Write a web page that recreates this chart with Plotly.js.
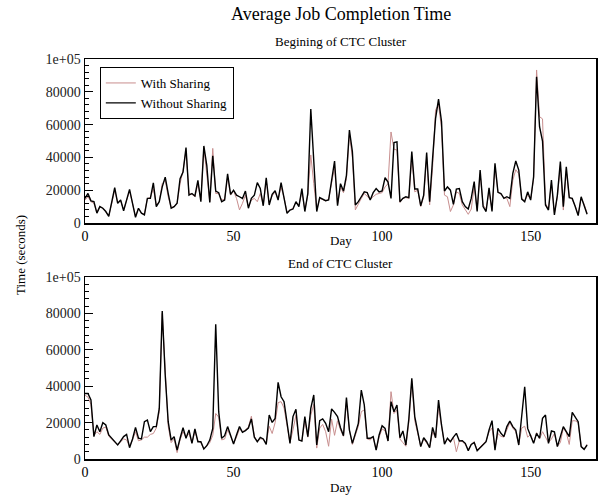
<!DOCTYPE html>
<html>
<head>
<meta charset="utf-8">
<script src="https://cdn.plot.ly/plotly-3.0.1.min.js"></script>
<style>
html,body{margin:0;padding:0;background:#fff;}
#chart{width:610px;height:495px;}
</style>
</head>
<body>
<div id="chart"></div>
<script>
// Top panel: Begining of CTC Cluster (day index 0..169)
var topWith = [14000,16000,13000,12000,6500,10000,9000,7000,4500,12000,
20000,12500,13500,8000,14000,19500,12000,4000,9000,6000,
5500,15000,15500,21000,11000,13000,24000,26000,16000,9500,
10000,12000,24000,32000,44000,18000,17500,16000,24000,14000,
46000,30000,13000,45500,18000,18000,14000,14500,28000,17000,
19500,15000,8000,12000,17000,10000,14000,15000,13000,18000,
11000,26000,12000,16500,19000,14500,22000,15500,6500,8000,
9000,12500,11000,19000,8000,17000,41500,24000,8000,15000,
14000,13500,14500,24000,34000,11500,22000,18500,27000,54000,
40000,8000,12000,15000,18000,16500,14500,16000,17500,18000,
18500,22000,24000,55500,45000,44500,12500,15000,15500,15000,
40500,19000,20000,10000,16000,40000,11000,34000,69000,72000,
58000,17000,16000,7000,11000,19000,18000,11000,8000,5300,
8500,22000,8000,30000,11000,8500,19000,8000,34000,19000,
17500,15500,15000,10000,26000,32500,30000,15000,13500,17000,
14500,27000,93300,64800,63500,12000,8500,24000,6000,16000,
35000,7900,32000,16000,14500,10500,5000,15000,11500,6000];

var topWithout = [15000,18000,13500,13000,6000,10000,9000,7000,4000,12000,
21500,12000,14000,7500,14000,20500,12000,3500,9000,6000,
5000,15000,15000,24500,10000,13000,22000,28000,18000,9000,
10000,12000,27000,31000,46000,17000,18000,16500,26000,13000,
47000,35000,12500,41000,19500,18500,13000,14000,30000,17500,
20000,17000,16000,15000,19500,9000,15000,17000,24600,21000,
10500,27600,11000,17500,19700,14000,24600,15000,5900,7900,
8500,13000,10000,21000,7000,18000,69500,38000,7000,15500,
14600,13600,14000,25000,37800,10500,24000,19500,29000,56700,
43500,11000,13000,16000,19000,18500,14000,18500,21000,19000,
19500,27600,25000,15000,49000,49500,13000,15000,16000,15500,
43500,20700,20700,10500,17000,43000,13000,39400,63800,75600,
61800,19500,22000,20000,11400,20700,21000,13000,10000,8500,
15000,25200,7000,32300,10000,7000,21500,7000,36400,18700,
18000,15000,16000,15000,30300,37800,32300,14600,13000,19000,
14000,28200,89200,58700,50000,11000,7900,26200,4900,17000,
37400,10000,34300,15500,15000,10000,4500,16000,11000,5300];

// Bottom panel: End of CTC Cluster (day index 0..169)
var botWith = [35000,34000,30000,13000,15000,13500,17000,17500,12500,11000,
9500,7700,9500,11000,10500,7000,10500,15000,10000,10500,
12000,12000,13500,14000,17000,26000,80000,45000,18000,9000,
11000,3500,10500,15000,12000,14000,9000,15000,10000,9000,
5500,7000,9000,13000,25000,23000,10500,11000,16000,12500,
8500,12000,16500,15000,16000,17500,23500,12500,9500,11000,
11000,8500,18000,14000,20000,31000,31500,28000,19000,9000,
16000,24000,10500,10000,21000,12000,24000,30000,6000,17000,
19000,15000,7000,22000,13000,21000,16000,12500,31000,16000,
8000,13000,18000,26000,27000,11000,10500,12000,5000,12000,
16500,15500,10000,37000,25000,27000,11000,9000,7000,20000,
43000,21000,13500,7000,11000,9000,6500,15000,11500,28000,
17000,8500,11000,9000,12000,4000,10000,9500,8000,5000,
8000,9500,5000,6500,8000,10000,15000,17000,6000,14000,
12500,12000,16000,20000,17000,15000,8000,17000,18000,12000,
13500,9000,14500,11000,15000,12000,9000,11000,14000,7000,
9000,17000,14500,8000,21000,21000,20000,7000,5500,8000];

var botWithout = [36000,36000,32400,12300,18700,15000,20000,18700,13200,11400,
9500,7700,10000,12300,13500,6200,11000,17400,11400,11000,
20500,21400,15000,17800,17800,27800,81300,46000,20500,10400,
12300,4900,11400,17200,11400,16000,8600,16500,9500,9500,
5500,7300,10400,16800,74000,26000,11400,12800,17800,13200,
8200,13200,17800,14700,15600,17000,22000,12000,9500,11900,
11000,8000,24200,20100,22300,42100,34200,31500,20500,8600,
23300,27300,10400,9900,23300,12300,27800,35200,7700,21100,
22000,19600,15000,27500,25600,23300,17200,12800,33700,15900,
8600,13500,19600,37900,29700,11400,11400,12300,4900,13200,
18300,16800,9900,31500,26000,29700,11700,15400,7700,22000,
44300,23300,14100,6800,11700,9500,6200,17400,11700,32400,
18700,8200,11400,9500,12000,14100,9900,10100,8600,4600,
8000,9000,4600,6200,7700,9500,15900,21100,4900,16800,
14100,12300,17800,20900,17800,15900,7700,22300,39700,16800,
13200,8600,14100,11400,22300,24200,8600,15400,15000,6800,
12300,17800,15000,12300,25600,23300,20500,6800,5300,7700];

var days = [];
for (var i = 0; i < topWith.length; i++) days.push(i);

var seriesNames = ["With Sharing", "Without Sharing"];
var yTickVals = [0, 20000, 40000, 60000, 80000, 100000];
var yTickText = ["0", "20000", "40000", "60000", "80000", "1e+05"];
var xTickVals = [0, 50, 100, 150];
var xTickText = ["0", "50", "100", "150"];

var pink = "#c88e8e";
var serif = "Liberation Serif, Times New Roman, serif";

var traces = [
  {x: days, y: topWith, xaxis: "x", yaxis: "y", name: seriesNames[0], mode: "lines",
   line: {color: pink, width: 1}},
  {x: days, y: topWithout, xaxis: "x", yaxis: "y", name: seriesNames[1], mode: "lines",
   line: {color: "#000", width: 1.4}},
  {x: days, y: botWith, xaxis: "x2", yaxis: "y2", name: seriesNames[0], mode: "lines",
   line: {color: pink, width: 1}, showlegend: false},
  {x: days, y: botWithout, xaxis: "x2", yaxis: "y2", name: seriesNames[1], mode: "lines",
   line: {color: "#000", width: 1.4}, showlegend: false}
];

function xax(anchor) {
  return {domain: [0, 1], anchor: anchor, range: [0, 172], showgrid: false, zeroline: false,
    showline: true, mirror: true, linecolor: "#000", linewidth: 1.5, ticks: "",
    tickmode: "array", tickvals: xTickVals, ticktext: xTickText,
    tickfont: {family: serif, size: 14, color: "#000"}, fixedrange: true};
}
function yax(anchor, dom) {
  return {domain: dom, anchor: anchor, range: [0, 100000], showgrid: false, zeroline: false,
    showline: true, mirror: true, linecolor: "#000", linewidth: 1.5,
    ticks: "inside", ticklen: 8, tickcolor: "#000", tickwidth: 1,
    tickmode: "array", tickvals: yTickVals, ticktext: yTickText,
    minor: {ticks: "inside", ticklen: 4, tickcolor: "#000", dtick: 4000, tick0: 0, tickwidth: 1},
    tickfont: {family: serif, size: 14, color: "#222"}, fixedrange: true};
}
function yright(overlay, anchor, dom) {
  return {overlaying: overlay, side: "right", anchor: anchor, range: [0, 100000],
    showgrid: false, zeroline: false, showline: false, showticklabels: false,
    ticks: "inside", ticklen: 6, tickcolor: "#000", tickwidth: 1,
    tickmode: "array", tickvals: yTickVals, fixedrange: true};
}

var topDom = [0.59, 1];
var botDom = [0, 0.455];
function py(p) { return (459 - p) / 400; }
function ann(text, x, y, size, extra) {
  var a = {text: text, xref: "paper", yref: "paper", x: x, y: y, xanchor: "center", yanchor: "middle",
    showarrow: false, font: {family: serif, size: size, color: "#000"}};
  for (var k in (extra || {})) a[k] = extra[k];
  return a;
}

var layout = {
  width: 610, height: 495,
  margin: {l: 85, r: 14, t: 59, b: 36},
  paper_bgcolor: "#fff", plot_bgcolor: "#fff",
  font: {family: serif, color: "#000"},
  xaxis: xax("y"),
  yaxis: yax("x", topDom),
  xaxis2: xax("y2"),
  yaxis2: yax("x2", botDom),
  yaxis3: yright("y", "x", topDom),
  yaxis4: yright("y2", "x2", botDom),
  showlegend: true,
  legend: {x: 0.029, y: py(67), xanchor: "left", yanchor: "top",
    bgcolor: "#fff", bordercolor: "#000", borderwidth: 1,
    font: {family: serif, size: 13, color: "#000"}, itemwidth: 30, tracegroupgap: 0},
  annotations: [
    ann("Average Job Completion Time", 0.5, py(14), 18),
    ann("Begining of CTC Cluster", 0.5, py(41), 13),
    ann("Day", 0.5, py(241), 13),
    ann("End of CTC Cluster", 0.5, py(263), 13),
    ann("Day", 0.5, py(487), 13),
    ann("Time (seconds)", (20 - 85) / 511, py(255), 13, {textangle: -90})
  ]
};

Plotly.newPlot("chart", traces, layout, {staticPlot: true, displayModeBar: false});
</script>
</body>
</html>
